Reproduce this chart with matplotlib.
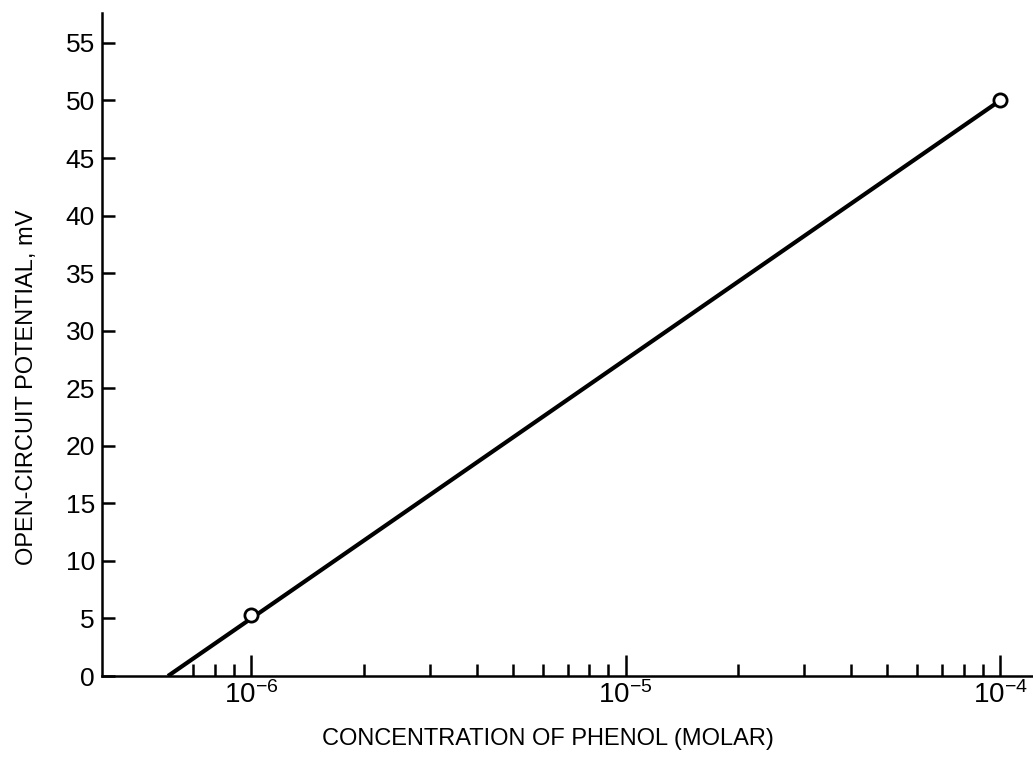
import matplotlib
matplotlib.use("Agg")
import matplotlib.pyplot as plt
from matplotlib.ticker import FixedLocator, NullFormatter, FixedFormatter

plt.rcParams['font.family'] = ['Liberation Sans', 'DejaVu Sans']
plt.rcParams['mathtext.fontset'] = 'custom'
plt.rcParams['mathtext.rm'] = 'Liberation Sans'
plt.rcParams['mathtext.it'] = 'Liberation Sans'

# data
line_x = [6e-7, 1e-4]
line_y = [0.0, 50.0]
points_x = [1e-6, 1e-4]
points_y = [5.3, 50.0]
y_ticks = [0, 5, 10, 15, 20, 25, 30, 35, 40, 45, 50, 55]
x_major = [1e-6, 1e-5, 1e-4]
x_major_labels = [r'$\mathregular{10^{-6}}$', r'$\mathregular{10^{-5}}$', r'$\mathregular{10^{-4}}$']
x_minor = [7e-7, 8e-7, 9e-7] + [m * 1e-6 for m in range(2, 10)] + [m * 1e-5 for m in range(2, 10)]

fig = plt.figure(figsize=(10.33, 7.61), dpi=100)
ax = fig.add_axes([102/1033, 85/761, (1032-102)/1033, (676-13)/761])
ax.set_xscale('log')
ax.set_xlim(10**-6.398, 10**-3.915)
ax.set_ylim(0, 57.6)

ax.plot(line_x, line_y, color='black', lw=3.0, solid_capstyle='butt', zorder=2)
ax.plot(points_x, points_y, 'o', ms=9.5, mfc='white', mec='black', mew=2.0, zorder=3)

for s in ['top', 'right']:
    ax.spines[s].set_visible(False)
for s in ['left', 'bottom']:
    ax.spines[s].set_linewidth(1.8)

ax.yaxis.set_major_locator(FixedLocator(y_ticks))
ax.set_yticklabels([str(v) for v in y_ticks])
ax.xaxis.set_major_locator(FixedLocator(x_major))
ax.xaxis.set_major_formatter(FixedFormatter(x_major_labels))
ax.xaxis.set_minor_locator(FixedLocator(x_minor))
ax.xaxis.set_minor_formatter(NullFormatter())

ax.tick_params(axis='y', direction='in', length=9.5, width=1.8, labelsize=19, pad=5)
ax.tick_params(axis='x', which='major', direction='in', length=15, width=1.8, labelsize=20, pad=4)
ax.tick_params(axis='x', which='minor', direction='in', length=8.5, width=1.8)

ax.set_xlabel('CONCENTRATION OF PHENOL (MOLAR)', fontsize=17)
ax.set_ylabel('OPEN-CIRCUIT POTENTIAL, mV', fontsize=17)
ax.xaxis.set_label_coords(0.48, -0.079)
ax.yaxis.set_label_coords(-0.069, 0.436)

fig.savefig('out.png', dpi=100)
